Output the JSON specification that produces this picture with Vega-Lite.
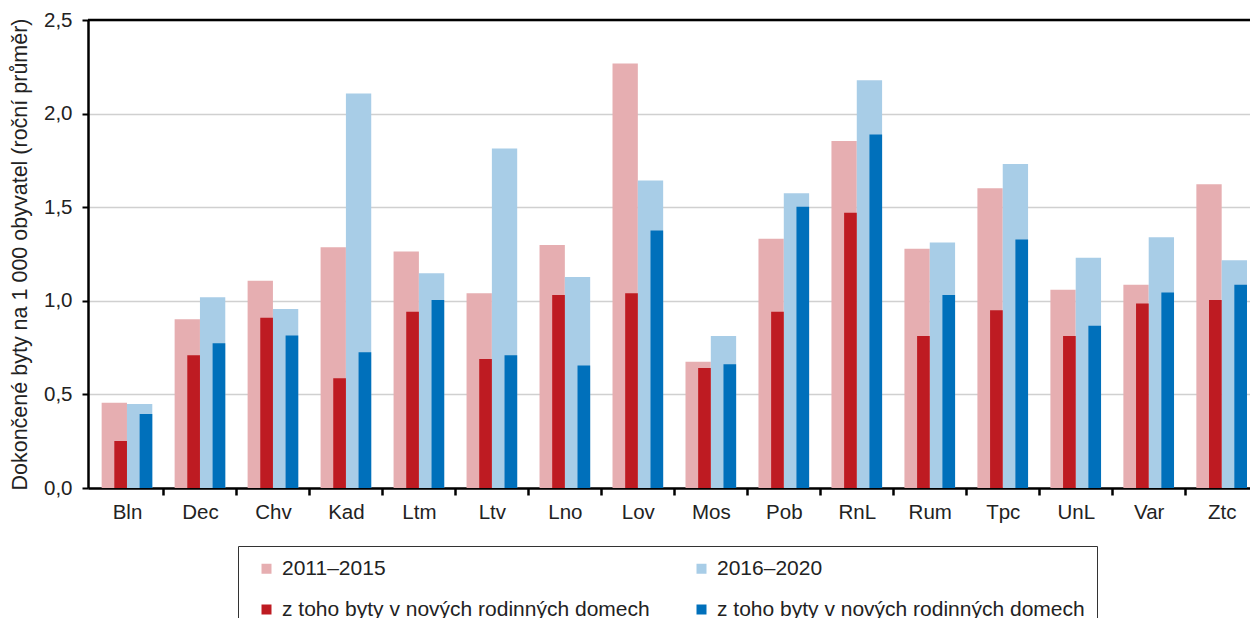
{
  "$schema": "https://vega.github.io/schema/vega-lite/v6.json",
  "autosize": {"type": "none"},
  "width": 1162,
  "height": 468,
  "padding": {"left": 88, "top": 20, "right": 0, "bottom": 130},
  "background": "white",
  "config": {
    "font": "Liberation Sans",
    "view": {"stroke": null},
    "axis": {"labelFont": "Liberation Sans", "titleFont": "Liberation Sans", "labelColor": "#222222", "titleColor": "#222222"},
    "legend": {"labelFont": "Liberation Sans"}
  },
  "datasets": {
    "d": [
      {"k": "Bln", "p": "2011–2015", "s": "a", "v": 0.456},
      {"k": "Bln", "p": "2016–2020", "s": "b", "v": 0.449},
      {"k": "Bln", "p": "2011–2015", "s": "c", "v": 0.251},
      {"k": "Bln", "p": "2016–2020", "s": "d", "v": 0.395},
      {"k": "Dec", "p": "2011–2015", "s": "a", "v": 0.901},
      {"k": "Dec", "p": "2016–2020", "s": "b", "v": 1.019},
      {"k": "Dec", "p": "2011–2015", "s": "c", "v": 0.709},
      {"k": "Dec", "p": "2016–2020", "s": "d", "v": 0.773},
      {"k": "Chv", "p": "2011–2015", "s": "a", "v": 1.107},
      {"k": "Chv", "p": "2016–2020", "s": "b", "v": 0.956},
      {"k": "Chv", "p": "2011–2015", "s": "c", "v": 0.910},
      {"k": "Chv", "p": "2016–2020", "s": "d", "v": 0.814},
      {"k": "Kad", "p": "2011–2015", "s": "a", "v": 1.286},
      {"k": "Kad", "p": "2016–2020", "s": "b", "v": 2.107},
      {"k": "Kad", "p": "2011–2015", "s": "c", "v": 0.586},
      {"k": "Kad", "p": "2016–2020", "s": "d", "v": 0.725},
      {"k": "Ltm", "p": "2011–2015", "s": "a", "v": 1.264},
      {"k": "Ltm", "p": "2016–2020", "s": "b", "v": 1.147},
      {"k": "Ltm", "p": "2011–2015", "s": "c", "v": 0.942},
      {"k": "Ltm", "p": "2016–2020", "s": "d", "v": 1.004},
      {"k": "Ltv", "p": "2011–2015", "s": "a", "v": 1.040},
      {"k": "Ltv", "p": "2016–2020", "s": "b", "v": 1.813},
      {"k": "Ltv", "p": "2011–2015", "s": "c", "v": 0.689},
      {"k": "Ltv", "p": "2016–2020", "s": "d", "v": 0.709},
      {"k": "Lno", "p": "2011–2015", "s": "a", "v": 1.298},
      {"k": "Lno", "p": "2016–2020", "s": "b", "v": 1.127},
      {"k": "Lno", "p": "2011–2015", "s": "c", "v": 1.031},
      {"k": "Lno", "p": "2016–2020", "s": "d", "v": 0.655},
      {"k": "Lov", "p": "2011–2015", "s": "a", "v": 2.267},
      {"k": "Lov", "p": "2016–2020", "s": "b", "v": 1.642},
      {"k": "Lov", "p": "2011–2015", "s": "c", "v": 1.040},
      {"k": "Lov", "p": "2016–2020", "s": "d", "v": 1.375},
      {"k": "Mos", "p": "2011–2015", "s": "a", "v": 0.675},
      {"k": "Mos", "p": "2016–2020", "s": "b", "v": 0.812},
      {"k": "Mos", "p": "2011–2015", "s": "c", "v": 0.641},
      {"k": "Mos", "p": "2016–2020", "s": "d", "v": 0.661},
      {"k": "Pob", "p": "2011–2015", "s": "a", "v": 1.332},
      {"k": "Pob", "p": "2016–2020", "s": "b", "v": 1.574},
      {"k": "Pob", "p": "2011–2015", "s": "c", "v": 0.942},
      {"k": "Pob", "p": "2016–2020", "s": "d", "v": 1.503},
      {"k": "RnL", "p": "2011–2015", "s": "a", "v": 1.854},
      {"k": "RnL", "p": "2016–2020", "s": "b", "v": 2.178},
      {"k": "RnL", "p": "2011–2015", "s": "c", "v": 1.471},
      {"k": "RnL", "p": "2016–2020", "s": "d", "v": 1.889},
      {"k": "Rum", "p": "2011–2015", "s": "a", "v": 1.278},
      {"k": "Rum", "p": "2016–2020", "s": "b", "v": 1.312},
      {"k": "Rum", "p": "2011–2015", "s": "c", "v": 0.812},
      {"k": "Rum", "p": "2016–2020", "s": "d", "v": 1.031},
      {"k": "Tpc", "p": "2011–2015", "s": "a", "v": 1.601},
      {"k": "Tpc", "p": "2016–2020", "s": "b", "v": 1.731},
      {"k": "Tpc", "p": "2011–2015", "s": "c", "v": 0.949},
      {"k": "Tpc", "p": "2016–2020", "s": "d", "v": 1.328},
      {"k": "UnL", "p": "2011–2015", "s": "a", "v": 1.059},
      {"k": "UnL", "p": "2016–2020", "s": "b", "v": 1.230},
      {"k": "UnL", "p": "2011–2015", "s": "c", "v": 0.812},
      {"k": "UnL", "p": "2016–2020", "s": "d", "v": 0.867},
      {"k": "Var", "p": "2011–2015", "s": "a", "v": 1.086},
      {"k": "Var", "p": "2016–2020", "s": "b", "v": 1.339},
      {"k": "Var", "p": "2011–2015", "s": "c", "v": 0.985},
      {"k": "Var", "p": "2016–2020", "s": "d", "v": 1.045},
      {"k": "Ztc", "p": "2011–2015", "s": "a", "v": 1.622},
      {"k": "Ztc", "p": "2016–2020", "s": "b", "v": 1.216},
      {"k": "Ztc", "p": "2011–2015", "s": "c", "v": 1.004},
      {"k": "Ztc", "p": "2016–2020", "s": "d", "v": 1.086}
    ]
  },
  "data": {"name": "d"},
  "encoding": {
    "x": {
      "field": "k", "type": "nominal", "sort": null,
      "scale": {"paddingInner": 0.306, "paddingOuter": 0.114, "align": 0.82},
      "axis": {
        "title": null, "labelAngle": 0, "labelFontSize": 20.5, "labelPadding": 7,
        "domainColor": "#000000", "domainWidth": 2.5,
        "tickColor": "#000000", "tickWidth": 2.5, "tickSize": 7,
        "tickOffset": 36.5, "labelOffset": -36.5
      }
    },
    "xOffset": {"field": "p", "type": "nominal", "scale": {"paddingInner": 0, "paddingOuter": 0}},
    "y": {
      "field": "v", "type": "quantitative",
      "scale": {"domain": [0, 2.5], "nice": false},
      "axis": {
        "title": "Dokončené byty na 1 000 obyvatel (roční průměr)",
        "titleFontSize": 21.5, "titleFontWeight": "normal", "titlePadding": 12,
        "values": [0, 0.5, 1, 1.5, 2, 2.5],
        "labelExpr": "replace(format(datum.value, '.1f'), '.', ',')",
        "labelFontSize": 20.5, "labelPadding": 10,
        "domainColor": "#000000", "domainWidth": 2.5,
        "tickColor": "#000000", "tickWidth": 2, "tickSize": 6,
        "gridColor": "#D0D0D0", "gridWidth": 1.5
      }
    },
    "color": {
      "field": "s", "type": "nominal",
      "scale": {"domain": ["a", "b", "c", "d"], "range": ["#E6AEB1", "#A8CDE7", "#BE1B22", "#0070BB"]},
      "legend": {
        "title": null, "orient": "none", "legendX": 150, "legendY": 526,
        "direction": "horizontal", "columns": 2,
        "labelExpr": "datum.label == 'a' ? '2011–2015' : datum.label == 'b' ? '2016–2020' : datum.label == 'c' ? '\u00a0z toho byty v nových rodinných domech' : '\u00a0z toho byty v nových rodinných domech\u00a0\u00a0\u00a0\u00a0'",
        "labelFontSize": 21, "labelColor": "#222222", "labelLimit": 500, "labelOffset": 5,
        "symbolType": "square", "symbolSize": 100, "symbolStrokeWidth": 0, "symbolOffset": 6,
        "columnPadding": 35, "rowPadding": 19,
        "padding": 12, "strokeColor": "#333333", "fillColor": "white"
      }
    }
  },
  "layer": [
    {
      "transform": [{"filter": "datum.s == 'a' || datum.s == 'b'"}],
      "mark": {"type": "bar", "opacity": 1}
    },
    {
      "transform": [{"filter": "datum.s == 'c' || datum.s == 'd'"}],
      "mark": {"type": "bar", "width": {"band": 0.5}, "opacity": 1}
    },
    {
      "data": {"values": [{"top": 2.5}]},
      "mark": {"type": "rule", "color": "#000000", "strokeWidth": 2.5},
      "encoding": {"y": {"field": "top", "type": "quantitative"}, "x": null, "xOffset": null, "color": null}
    }
  ]
}
